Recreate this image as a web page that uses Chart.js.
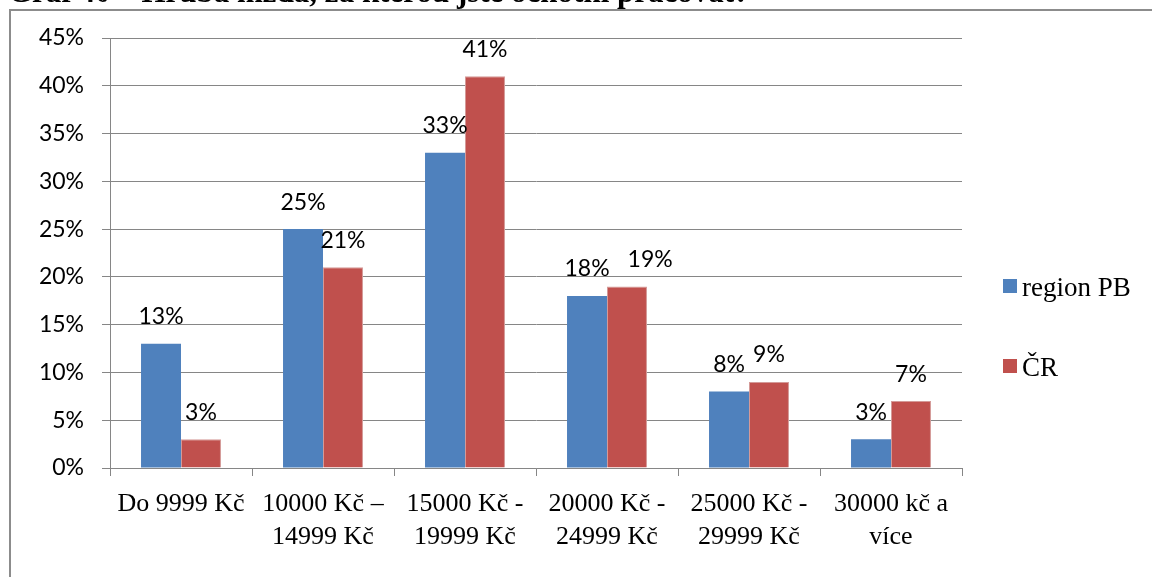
<!DOCTYPE html>
<html><head><meta charset="utf-8">
<script src="https://cdn.jsdelivr.net/npm/chart.js@4.4.1/dist/chart.umd.min.js"></script>
<style>html,body{margin:0;padding:0;background:#fff;overflow:hidden}</style>
</head><body>
<canvas id="c" width="1152" height="577"></canvas>
<script>
const chartTitle = "Graf 40 – Hrubá mzda, za kterou jste ochotni pracovat?";
const categories = [
  ["Do 9999 Kč"],
  ["10000 Kč –", "14999 Kč"],
  ["15000 Kč -", "19999 Kč"],
  ["20000 Kč -", "24999 Kč"],
  ["25000 Kč -", "29999 Kč"],
  ["30000 kč a", "více"]
];
const seriesNames = ["region PB", "ČR"];
const regionPB = [13, 25, 33, 18, 8, 3];
const cr = [3, 21, 41, 19, 9, 7];
const yMin = 0, yMax = 45, yStep = 5;

const colors = ["#4F81BD", "#C0504D"];
const gridColor = "#868686";
const serif = "'Liberation Serif', 'Times New Roman', serif";
const sans = "Lato, 'Open Sans', sans-serif";

const framePlugin = {
  id: 'frame',
  beforeDraw(chart) {
    const ctx = chart.ctx;
    ctx.save();
    ctx.fillStyle = '#fff';
    ctx.fillRect(0, 0, chart.width, chart.height);
    ctx.strokeStyle = '#8c8c8c';
    ctx.lineWidth = 2;
    ctx.strokeRect(10, 10, 1300, 700);
    ctx.fillStyle = '#000';
    ctx.font = "bold 31px " + serif;
    ctx.textBaseline = 'alphabetic';
    ctx.textAlign = 'left';
    ctx.fillText(chartTitle, 8, 2);
    ctx.restore();
  }
};

const labelPlugin = {
  id: 'valueLabels',
  afterDatasetsDraw(chart) {
    const ctx = chart.ctx;
    ctx.save();
    ctx.font = "23px " + sans;
    ctx.fillStyle = '#000';
    ctx.textAlign = 'center';
    ctx.textBaseline = 'middle';
    const n = chart.data.labels.length;
    for (let j = 0; j < n; j++) {
      let prev = null;
      chart.data.datasets.forEach((ds, i) => {
        const el = chart.getDatasetMeta(i).data[j];
        const txt = ds.data[j] + '%';
        const w = ctx.measureText(txt).width;
        let x = el.x;
        const y = el.y - 27;
        if (prev && Math.abs(prev.y - y) < 24 && x - w / 2 < prev.right + 4) {
          x = prev.right + 18 + w / 2;
        }
        ctx.fillText(txt, x, y);
        prev = { right: x + w / 2, y: y };
      });
    }
    ctx.restore();
  }
};

const legendPlugin = {
  id: 'customLegend',
  afterDraw(chart) {
    const ctx = chart.ctx;
    ctx.save();
    ctx.font = "27px " + serif;
    ctx.textBaseline = 'middle';
    ctx.textAlign = 'left';
    const ys = [288, 368];
    chart.data.datasets.forEach((ds, i) => {
      ctx.fillStyle = ds.backgroundColor;
      ctx.fillRect(1003, ys[i] - 9, 14, 14);
      ctx.fillStyle = '#000';
      ctx.fillText(ds.label, 1022, ys[i] + 1);
    });
    ctx.restore();
  }
};

new Chart(document.getElementById('c'), {
  type: 'bar',
  data: {
    labels: categories,
    datasets: [
      { label: seriesNames[0], data: regionPB, backgroundColor: colors[0], categoryPercentage: 0.563, barPercentage: 1.0 },
      { label: seriesNames[1], data: cr, backgroundColor: colors[1], borderColor: '#D49A98', borderWidth: 1, categoryPercentage: 0.563, barPercentage: 1.0 }
    ]
  },
  options: {
    responsive: false,
    animation: false,
    devicePixelRatio: 1,
    layout: { padding: { top: 38, right: 190, bottom: 0, left: 0 } },
    plugins: { legend: { display: false }, title: { display: false }, tooltip: { enabled: false } },
    scales: {
      x: {
        afterFit(scale) { scale.height = 109; },
        grid: { offset: true, drawOnChartArea: false, drawTicks: true, tickLength: 8, color: gridColor, lineWidth: 1 },
        border: { display: true, color: gridColor, width: 1 },
        ticks: { color: '#000', padding: 12, maxRotation: 0, autoSkip: false,
          font: { family: serif, size: 26, lineHeight: 1.27 } }
      },
      y: {
        min: yMin, max: yMax,
        afterFit(scale) { scale.width = 110; },
        grid: { color: gridColor, lineWidth: 1, drawTicks: true, tickLength: 8 },
        border: { display: true, color: gridColor, width: 1 },
        ticks: { stepSize: yStep, color: '#000', padding: 18,
          font: { family: sans, size: 23 },
          callback: v => v + '%' }
      }
    }
  },
  plugins: [framePlugin, labelPlugin, legendPlugin]
});
</script>
</body></html>
